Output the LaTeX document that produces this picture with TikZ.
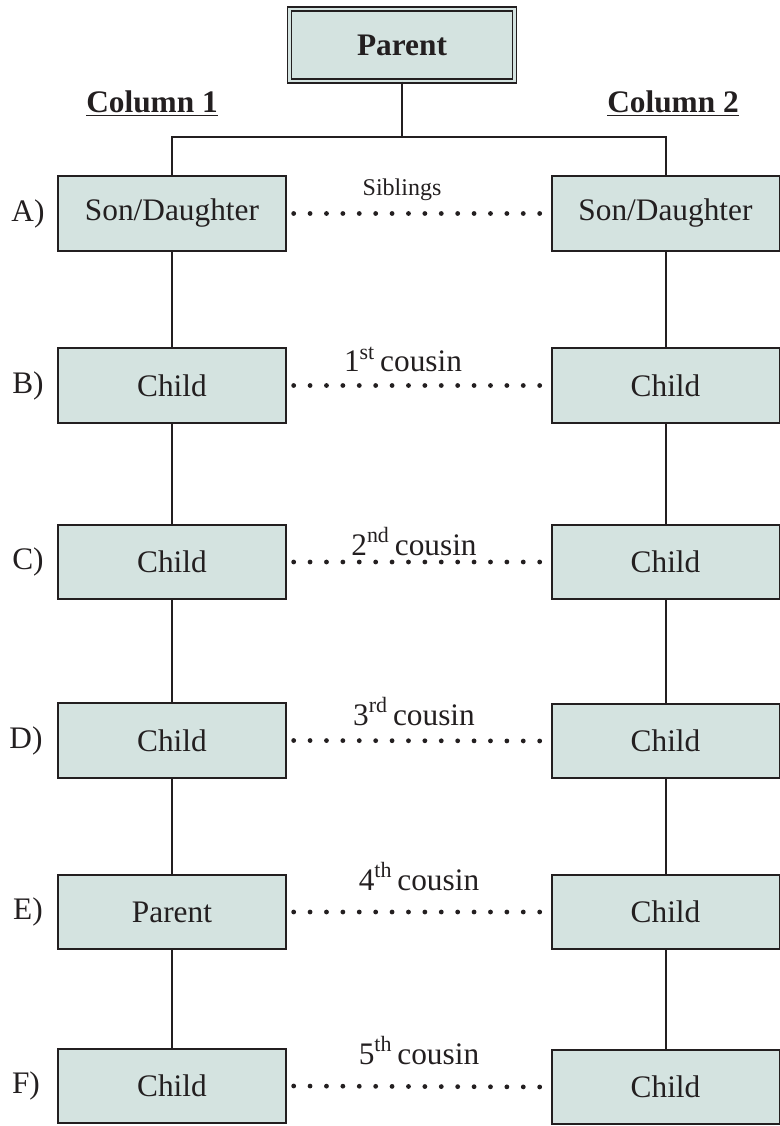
\documentclass[tikz,border=0pt]{standalone}
\usepackage{fontspec}
\setmainfont{Liberation Serif}
\definecolor{boxfill}{HTML}{D4E3E0}
\definecolor{linec}{HTML}{231F20}
\begin{document}
\begin{tikzpicture}[x=0.75pt,y=-0.75pt,
  mainfont/.style={font=\fontsize{23.5}{27}\selectfont},
  famebox/.style={draw=linec,fill=boxfill,line width=1.5pt,minimum width=171pt,minimum height=56pt,inner sep=0pt,mainfont,text=linec},
  topbox/.style={draw=linec,fill=boxfill,double=boxfill,line width=1pt,double distance=2pt,minimum width=169pt,minimum height=54pt,inner sep=0pt,font=\fontsize{23.5}{27}\selectfont\bfseries,text=linec},
  link/.style={draw=linec,line width=1.5pt},
  dotline/.style={draw=linec,line width=3.6pt,line cap=round,dash pattern=on 0pt off 12.3pt},
  rowlabel/.style={mainfont,text=linec,inner sep=0pt},
  cuz/.style={mainfont,text=linec,inner sep=0pt,anchor=base},
  colhead/.style={font=\fontsize{23.5}{27}\selectfont\bfseries,text=linec,inner sep=0pt,anchor=base}]
\useasboundingbox (0,0) rectangle (780,1126);

% top parent
\node[topbox] (P) at (402,45) {Parent};
\node[colhead] (C1) at (152,113) {\underline{Column 1}};
\node[colhead] (C2) at (673,113) {\underline{Column 2}};

% left column
\node[famebox] (A1) at (172,213.5) {Son/Daughter};
\node[famebox] (B1) at (172,385.5) {Child};
\node[famebox] (Cc1) at (172,562) {Child};
\node[famebox] (D1) at (172,740.5) {Child};
\node[famebox] (E1) at (172,912) {Parent};
\node[famebox] (F1) at (172,1086) {Child};

% right column
\node[famebox] (A2) at (665.5,213.5) {Son/Daughter};
\node[famebox] (B2) at (665.5,385.5) {Child};
\node[famebox] (Cc2) at (665.5,562) {Child};
\node[famebox] (D2) at (665.5,741) {Child};
\node[famebox] (E2) at (665.5,912) {Child};
\node[famebox] (F2) at (665.5,1087) {Child};

% row labels
\node[rowlabel] (LA) at (28,213.5) {A)};
\node[rowlabel] (LB) at (28,385.5) {B)};
\node[rowlabel] (LC) at (28,562) {C)};
\node[rowlabel] (LD) at (26,740.5) {D)};
\node[rowlabel] (LE) at (28,912) {E)};
\node[rowlabel] (LF) at (26,1086) {F)};

% tree connectors
\coordinate (J) at (402,137);
\draw[link] (P.south) -- (J);
\draw[link] (A1.north) |- (J) -| (A2.north);
\draw[link] (A1.south) -- (B1.north);
\draw[link] (B1.south) -- (Cc1.north);
\draw[link] (Cc1.south) -- (D1.north);
\draw[link] (D1.south) -- (E1.north);
\draw[link] (E1.south) -- (F1.north);
\draw[link] (A2.south) -- (B2.north);
\draw[link] (B2.south) -- (Cc2.north);
\draw[link] (Cc2.south) -- (D2.north);
\draw[link] (D2.south) -- (E2.north);
\draw[link] (E2.south) -- (F2.north);

% dotted relations
\draw[dotline] ([xshift=5pt]A1.east) -- ([xshift=-2pt]A2.west);
\draw[dotline] ([xshift=5pt]B1.east) -- ([xshift=-2pt]B2.west);
\draw[dotline] ([xshift=5pt]Cc1.east) -- ([xshift=-2pt]Cc2.west);
\draw[dotline] ([xshift=5pt]D1.east) -- ([xshift=-2pt]D2.west);
\draw[dotline] ([xshift=5pt]E1.east) -- ([xshift=-2pt]E2.west);
\draw[dotline] ([xshift=5pt]F1.east) -- ([xshift=-2pt]F2.west);

% relation labels
\node[font=\fontsize{18}{20}\selectfont,text=linec,inner sep=0pt] (SA) at (402,190) {Siblings};
\node[cuz] (SB) at (403,372) {1\textsuperscript{st}\,cousin};
\node[cuz] (SC) at (414,555) {2\textsuperscript{nd}\,cousin};
\node[cuz] (SD) at (414,725) {3\textsuperscript{rd}\,cousin};
\node[cuz] (SE) at (419,890) {4\textsuperscript{th}\,cousin};
\node[cuz] (SF) at (419,1064) {5\textsuperscript{th}\,cousin};
\end{tikzpicture}
\end{document}
